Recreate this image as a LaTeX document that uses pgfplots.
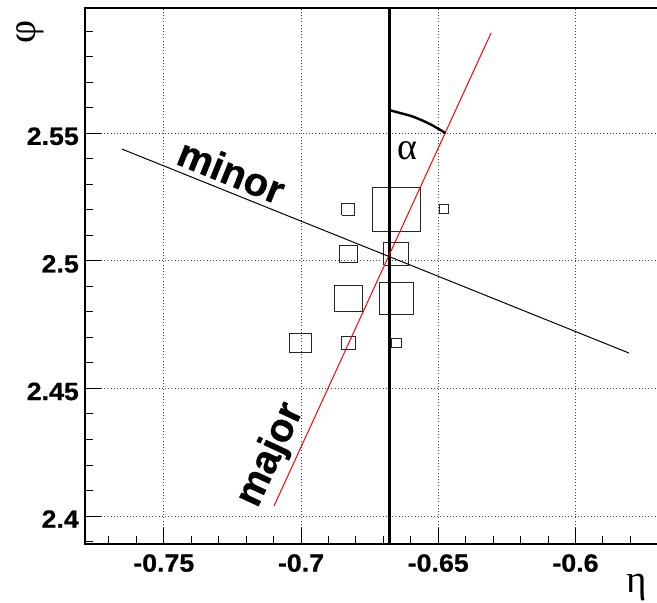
\documentclass[border=0pt]{standalone}
\usepackage{pgfplots}
\pgfplotsset{compat=1.18}
\usepackage{fontspec}
\setmainfont{Liberation Sans}
\newfontfamily\tickfont{Liberation Sans Bold}[FakeStretch=1.07, FakeBold=0.6]
\newfontfamily\lblfont{Liberation Sans Bold}[FakeBold=0.6]
\newfontfamily\greekfont{Liberation Serif}
\begin{document}
\begin{tikzpicture}
\useasboundingbox (-85pt,-59pt) rectangle (572pt,544pt);
\begin{axis}[
  at={(0,0)}, anchor=south west,
  scale only axis, width=572pt, height=536pt,
  xmin=-0.7787, xmax=-0.5703, ymin=2.38903, ymax=2.5991,
  axis line style={draw=none},
  tick pos=left, tick align=inside,
  xtick={-0.75,-0.7,-0.65,-0.6}, xticklabels={-0.75,-0.7,-0.65,-0.6},
  ytick={2.4,2.45,2.5,2.55}, yticklabels={2.4,2.45,2.5,2.55},
  minor xtick={-0.77,-0.76,-0.74,-0.73,-0.72,-0.71,-0.69,-0.68,-0.67,-0.66,-0.64,-0.63,-0.62,-0.61,-0.59,-0.58,-0.57},
  minor ytick={2.39,2.41,2.42,2.43,2.44,2.46,2.47,2.48,2.49,2.51,2.52,2.53,2.54,2.56,2.57,2.58,2.59},
  major tick length=16pt, minor tick length=8pt,
  every tick/.style={black, line width=0.9pt},
  grid=major,
  major grid style={black!75, line width=0.9pt, dash pattern=on 1pt off 2.2pt},
  xticklabel style={font={\tickfont\fontsize{25}{25}\selectfont}, anchor=north, inner sep=0pt, yshift=-10pt},
  yticklabel style={font={\tickfont\fontsize{25}{25}\selectfont}, anchor=east, inner sep=0pt, xshift=-6pt, yshift=-3pt},
  clip mode=individual,
]
% cell boxes (box size ~ cell content)
\addplot[black!85, line width=0.9pt, mark=none] coordinates {(-0.67403,2.51147) (-0.65657,2.51147) (-0.65657,2.52893) (-0.67403,2.52893) (-0.67403,2.51147)};
\addplot[black!85, line width=0.9pt, mark=none] coordinates {(-0.68516,2.51784) (-0.68044,2.51784) (-0.68044,2.52256) (-0.68516,2.52256) (-0.68516,2.51784)};
\addplot[black!85, line width=0.9pt, mark=none] coordinates {(-0.64965,2.51845) (-0.64615,2.51845) (-0.64615,2.52195) (-0.64965,2.52195) (-0.64965,2.51845)};
\addplot[black!85, line width=0.9pt, mark=none] coordinates {(-0.66984,2.49826) (-0.66076,2.49826) (-0.66076,2.50734) (-0.66984,2.50734) (-0.66984,2.49826)};
\addplot[black!85, line width=0.9pt, mark=none] coordinates {(-0.68603,2.49957) (-0.67957,2.49957) (-0.67957,2.50603) (-0.68603,2.50603) (-0.68603,2.49957)};
\addplot[black!85, line width=0.9pt, mark=none] coordinates {(-0.68786,2.48024) (-0.67774,2.48024) (-0.67774,2.49036) (-0.68786,2.49036) (-0.68786,2.48024)};
\addplot[black!85, line width=0.9pt, mark=none] coordinates {(-0.67141,2.47919) (-0.65919,2.47919) (-0.65919,2.49141) (-0.67141,2.49141) (-0.67141,2.47919)};
\addplot[black!85, line width=0.9pt, mark=none] coordinates {(-0.70404,2.46406) (-0.69636,2.46406) (-0.69636,2.47174) (-0.70404,2.47174) (-0.70404,2.46406)};
\addplot[black!85, line width=0.9pt, mark=none] coordinates {(-0.68533,2.46537) (-0.68027,2.46537) (-0.68027,2.47043) (-0.68533,2.47043) (-0.68533,2.46537)};
\addplot[black!85, line width=0.9pt, mark=none] coordinates {(-0.66705,2.46615) (-0.66355,2.46615) (-0.66355,2.46965) (-0.66705,2.46965) (-0.66705,2.46615)};
% axes of the cluster
\addplot[black, line width=2.6pt, mark=none] coordinates {(-0.66783,2.38903) (-0.66783,2.5991)};
\addplot[red, line width=1pt, mark=none] coordinates {(-0.70984,2.40392) (-0.63078,2.58926)};
\addplot[black, line width=1pt, mark=none] coordinates {(-0.76522,2.54381) (-0.58050,2.46387)};
\addplot[black, line width=2.4pt, mark=none, smooth, tension=0.6, line cap=round] coordinates {(-0.66783,2.55909) (-0.66357,2.55784) (-0.65909,2.55647) (-0.65301,2.55361) (-0.64754,2.55020)};
% labels
\node[font={\lblfont\fontsize{40}{40}\selectfont}, rotate=-22] at (axis cs:-0.72532,2.53519) {minor};
\node[font={\lblfont\fontsize{40}{40}\selectfont}, rotate=65] at (axis cs:-0.71093,2.42390) {major};
\node[font={\greekfont\fontsize{38}{38}\selectfont}] at (axis cs:-0.66138,2.54303) {α};
\node[font={\greekfont\fontsize{40}{40}\selectfont}, rotate=90] at (rel axis cs:-0.0962,0.955) {φ};
\node[font={\greekfont\fontsize{39}{39}\selectfont}] at (rel axis cs:0.965,-0.0802) {η};
% frame (left, bottom, top)
\draw[line width=2pt] (rel axis cs:1,0) -- (rel axis cs:0,0) -- (rel axis cs:0,1) -- (rel axis cs:1,1);
\end{axis}
\end{tikzpicture}
\end{document}
